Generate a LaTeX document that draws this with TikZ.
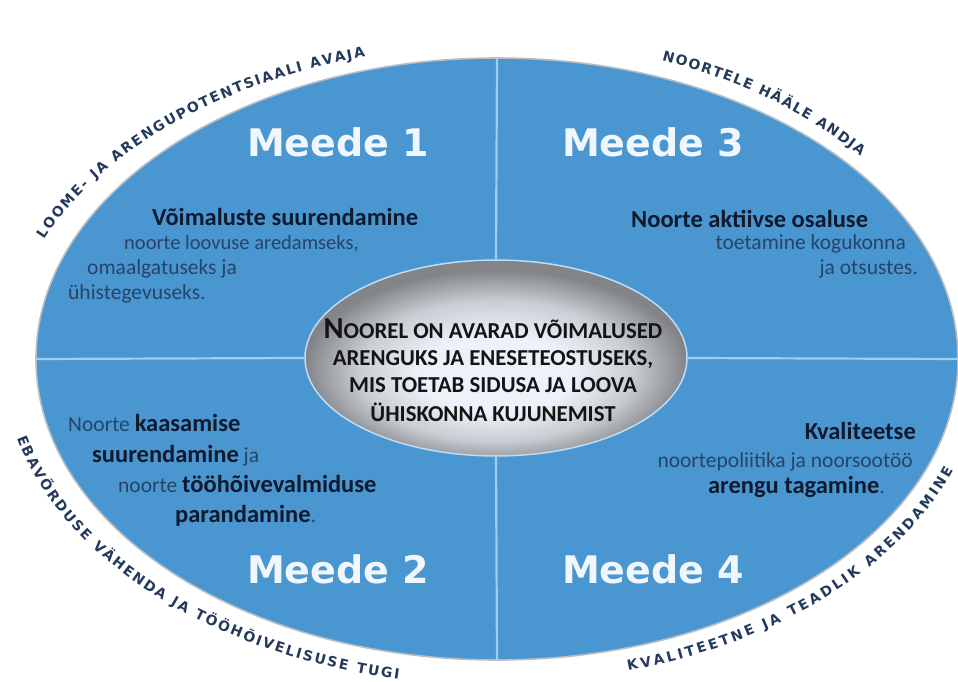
\documentclass[tikz,border=0pt]{standalone}
\usepackage{fontspec}
\setmainfont{Carlito}
\newfontfamily\arcfont{DejaVu Sans}
\usetikzlibrary{shapes.geometric,decorations.text}
\definecolor{ellblue}{RGB}{74,150,208}
\definecolor{elledge}{RGB}{185,190,196}
\definecolor{divline}{RGB}{160,205,242}
\definecolor{boldtxt}{RGB}{16,26,46}
\definecolor{normtxt}{RGB}{38,68,104}
\definecolor{arctxt}{RGB}{36,58,92}
\definecolor{meedecol}{RGB}{240,246,253}
\definecolor{coreedge}{RGB}{190,220,245}
\definecolor{icA}{RGB}{236,242,249}
\definecolor{icB}{RGB}{200,205,211}
\definecolor{icC}{RGB}{130,132,136}
\pgfdeclareradialshading{innerglow}{\pgfpoint{0bp}{-5bp}}{color(0bp)=(icA); color(10bp)=(icA); color(18bp)=(icB); color(25bp)=(icC); color(50bp)=(icC)}
\newcommand\boldpart[1]{{\fontsize{24.5}{28}\selectfont\bfseries\color{boldtxt}#1}}
\tikzset{
  bigell/.style={ellipse, draw=elledge, line width=1.6pt, fill=ellblue, inner sep=0pt, minimum width=922pt, minimum height=602pt},
  coreell/.style={ellipse, draw=coreedge, line width=1.5pt, shading=innerglow, inner sep=0pt, minimum width=382pt, minimum height=196pt},
  divider/.style={draw=divline, line width=2.2pt},
  meede/.style={font=\arcfont\bfseries\fontsize{38}{40}\selectfont, text=meedecol, inner sep=0pt},
  txtline/.style={inner sep=0pt, font=\fontsize{21.5}{25}\selectfont, text=normtxt},
  coreline/.style={inner sep=0pt, anchor=base, text=black!92, font=\bfseries},
  arctext/.style={decorate, decoration={text along path, text align={fit to path}, text={|\arcfont\bfseries\fontsize{14}{14}\selectfont\color{arctxt}|#1}}}
}
\begin{document}
\begin{tikzpicture}[x=1pt,y=-1pt]
\useasboundingbox (0,0) rectangle (958,682);
% main ellipse and core
\node[bigell] (outer) at (497,359) {};
\node[coreell] (core) at (496,358) {};
\draw[divider] (outer.north) -- (core.north);
\draw[divider] (outer.south) -- (core.south);
\draw[divider] (outer.west) -- (core.west);
\draw[divider] (outer.east) -- (core.east);

% Meede labels
\node[meede] (m1) at (338,142) {Meede 1};
\node[meede] (m3) at (653,142) {Meede 3};
\node[meede] (m2) at (338,569) {Meede 2};
\node[meede] (m4) at (653,569) {Meede 4};

% block 1
\node[txtline, anchor=base west] (b1a) at (152,225) {\boldpart{Võimaluste suurendamine}};
\node[txtline, anchor=base west, font=\fontsize{20.5}{24}\selectfont] (b1b) at (124,249) {noorte loovuse aredamseks,};
\node[txtline, anchor=base west] (b1c) at (87,274) {omaalgatuseks ja};
\node[txtline, anchor=base west] (b1d) at (68,299) {ühistegevuseks.};

% block 3
\node[txtline, anchor=base west] (b3a) at (631,227) {\boldpart{Noorte aktiivse osaluse}};
\node[txtline, anchor=base east] (b3b) at (906,249) {toetamine kogukonna};
\node[txtline, anchor=base east] (b3c) at (918,274) {ja otsustes.};

% block 2
\node[txtline, anchor=base west] (b2a) at (68,431) {Noorte \boldpart{kaasamise}};
\node[txtline, anchor=base west] (b2b) at (92,462) {\boldpart{suurendamine} ja};
\node[txtline, anchor=base west] (b2c) at (118,492) {noorte \boldpart{tööhõivevalmiduse}};
\node[txtline, anchor=base west] (b2d) at (175,522) {\boldpart{parandamine}.};

% block 4
\node[txtline, anchor=base east] (b4a) at (916,439) {\boldpart{Kvaliteetse}};
\node[txtline, anchor=base east] (b4b) at (913,467) {noortepoliitika ja noorsootöö};
\node[txtline, anchor=base east] (b4c) at (885,493) {\boldpart{arengu tagamine}.};

% core text
\node[coreline] (c1) at (493,338) {{\fontsize{30.5}{32}\selectfont N}{\fontsize{22.8}{26}\selectfont OOREL ON AVARAD VÕIMALUSED}};
\node[coreline] (c2) at (493,365) {\fontsize{22.8}{26}\selectfont ARENGUKS JA ENESETEOSTUSEKS,};
\node[coreline] (c3) at (493,392) {\fontsize{22.8}{26}\selectfont MIS TOETAB SIDUSA JA LOOVA};
\node[coreline] (c4) at (493,421) {\fontsize{22.8}{26}\selectfont ÜHISKONNA KUJUNEMIST};

% curved texts
\path[arctext={LOOME- JA ARENGUPOTENTSIAALI AVAJA}] (497,360) ++(-157.5:490.4 and 314.6) arc[start angle=-157.5, end angle=-105.6, x radius=490.4, y radius=314.6];
\path[arctext={NOORTELE HÄÄLE ANDJA}] (497,360) ++(-69.5:471 and 320) arc[start angle=-69.5, end angle=-39.5, x radius=471, y radius=320];
\path[arctext={EBAVÕRDUSE VÄHENDA JA TÖÖHÕIVELISUSE TUGI}] (497,360) ++(-193.9:494.5 and 325.7) arc[start angle=-193.9, end angle=-258.5, x radius=494.5, y radius=325.7];
\path[arctext={KVALITEETNE JA TEADLIK ARENDAMINE}] (497,360) ++(-285.7:485 and 323) arc[start angle=-285.7, end angle=-340.1, x radius=485, y radius=323];
\end{tikzpicture}
\end{document}
